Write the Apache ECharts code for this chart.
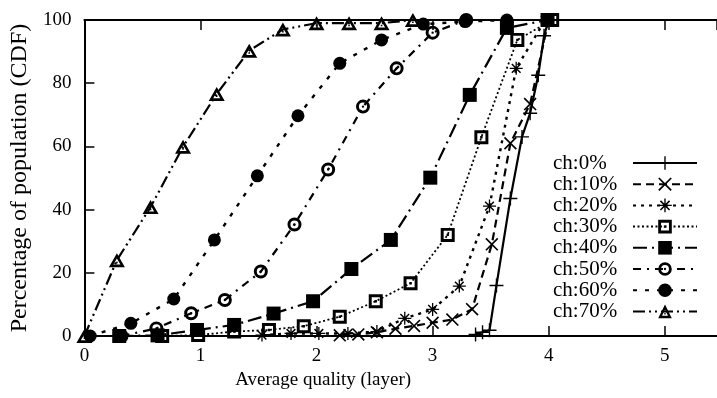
<!DOCTYPE html>
<html>
<head>
<meta charset="utf-8">
<script src="https://cdn.jsdelivr.net/npm/echarts@6/dist/echarts.min.js"></script>
<style>
html,body{margin:0;padding:0;background:#fff;}
#c{width:717px;height:398px;}
</style>
</head>
<body>
<div id="c"></div>
<script>
// ---- data ----
const seriesNames = ['ch:0%', 'ch:10%', 'ch:20%', 'ch:30%', 'ch:40%', 'ch:50%', 'ch:60%', 'ch:70%'];
const xTicks = [0, 1, 2, 3, 4, 5];
const yTicks = [0, 20, 40, 60, 80, 100];

const ch0x  = [3.37, 3.43, 3.49, 3.55, 3.67, 3.77, 3.84, 3.91, 3.96, 4.0];
const ch0y  = [0.5, 1.2, 1.8, 16, 43.5, 63, 70.5, 82.5, 95, 100];
const ch10x = [2.2, 2.36, 2.52, 2.68, 2.84, 3.0, 3.17, 3.34, 3.51, 3.67, 3.84, 4.0];
const ch10y = [0.2, 0.5, 1.2, 2.3, 3.2, 4.2, 5.2, 8.5, 29, 61, 73.4, 100];
const ch20x = [1.53, 1.78, 2.02, 2.27, 2.52, 2.76, 3.0, 3.23, 3.49, 3.72, 3.97];
const ch20y = [0.3, 0.8, 0.8, 0.8, 1.4, 5.6, 8.4, 15.8, 41.1, 84.7, 100];
const ch30x = [0.67, 0.98, 1.29, 1.59, 1.89, 2.2, 2.51, 2.81, 3.13, 3.42, 3.73, 4.03];
const ch30y = [0, 0.3, 1.4, 1.9, 3.1, 6.1, 11, 16.7, 32, 62.9, 93.7, 100];
const ch40x = [0.3, 0.63, 0.97, 1.29, 1.63, 1.97, 2.3, 2.64, 2.98, 3.32, 3.64, 3.99];
const ch40y = [0, 0.2, 1.9, 3.5, 7.1, 11, 21.2, 30.4, 50.1, 76.3, 97.5, 100];
const ch50x = [0.32, 0.62, 0.92, 1.21, 1.52, 1.81, 2.1, 2.4, 2.69, 3.0, 3.29];
const ch50y = [0, 2.4, 7.2, 11.4, 20.4, 35.3, 52.7, 72.6, 84.7, 96, 100];
const ch60x = [0.05, 0.4, 0.77, 1.12, 1.49, 1.84, 2.2, 2.56, 2.92, 3.28, 3.64];
const ch60y = [0, 4, 11.7, 30.4, 50.7, 69.7, 86.3, 93.7, 98.7, 99.5, 100];
const ch70x = [0, 0.28, 0.57, 0.85, 1.14, 1.42, 1.71, 2.0, 2.28, 2.56, 2.83];
const ch70y = [0, 24, 40.8, 59.9, 76.6, 90.3, 97, 99, 99, 99, 100];

// ---- styling ----
const FONT = '"Liberation Serif", "DejaVu Serif", serif';
const SYM = {
  plus: 'path://M9,0H11V9H20V11H11V20H9V11H0V9H9Z',
  cross: 'path://M0,1.8L1.8,0L20,18.2L18.2,20Z M18.2,0L20,1.8L1.8,20L0,18.2Z',
  star: 'path://M9,0H11V9H20V11H11V20H9V11H0V9H9Z M2.5,4.1L4.1,2.5L17.5,15.9L15.9,17.5Z M15.9,2.5L17.5,4.1L4.1,17.5L2.5,15.9Z',
  osq: 'path://M0,0H20V20H0Z M4.2,4.2V15.8H15.8V4.2Z M8.3,8.3H11.7V11.7H8.3Z',
  fsq: 'rect',
  ocirc: 'path://M0,10A10,10,0,1,1,20,10A10,10,0,1,1,0,10Z M4.2,10A5.8,5.8,0,1,0,15.8,10A5.8,5.8,0,1,0,4.2,10Z M8.3,10A1.7,1.7,0,1,1,11.7,10A1.7,1.7,0,1,1,8.3,10Z',
  fcirc: 'circle',
  otri: 'path://M10,0L20,18L0,18Z M10,6.8L5.6,14.6L14.4,14.6Z M9,11H11V13H9Z'
};

const xs = [ch0x, ch10x, ch20x, ch30x, ch40x, ch50x, ch60x, ch70x];
const ys = [ch0y, ch10y, ch20y, ch30y, ch40y, ch50y, ch60y, ch70y];
const symbols = [SYM.plus, SYM.cross, SYM.star, SYM.osq, SYM.fsq, SYM.ocirc, SYM.fcirc, SYM.otri];
const symSizes = [14, 13, 13, 14, 14, 14, 13, [16, 14]];
const dashes = ['solid', [8, 5], [3, 5], [2, 2.5], [14, 5, 2, 5], [8, 6, 2, 6], [4, 8], [12, 4, 2, 4, 2, 4]];
const widths = [2.2, 2.2, 2.4, 1.8, 2.2, 2.2, 2.4, 2.2];

const series = seriesNames.map((name, i) => ({
  name: name,
  type: 'line',
  data: xs[i].map((x, k) => [x, ys[i][k]]),
  symbol: symbols[i],
  symbolSize: symSizes[i],
  showSymbol: true,
  showAllSymbol: true,
  clip: false,
  xAxisIndex: 0,
  yAxisIndex: 0,
  itemStyle: { color: '#000', borderWidth: 0 },
  lineStyle: { color: '#000', width: widths[i], type: dashes[i] },
  emphasis: { disabled: true },
  z: 10 - i
}));

const chart = echarts.init(document.getElementById('c'), null, { renderer: 'canvas' });
chart.setOption({
  animation: false,
  backgroundColor: '#fff',
  textStyle: { fontFamily: FONT, color: '#000' },
  grid: { left: 82, right: 0, top: 20, bottom: 62, containLabel: false },
  legend: {
    data: seriesNames,
    orient: 'vertical',
    left: 553,
    top: 152.5,
    padding: 0,
    itemWidth: 64,
    itemHeight: 17,
    itemGap: 0.2,
    align: 'right',
    selectedMode: false,
    formatter: n => '{a|' + n + '}',
    textStyle: {
      fontFamily: FONT,
      fontSize: 21,
      color: '#000',
      rich: { a: { width: 75, align: 'left', fontFamily: FONT, fontSize: 21, color: '#000' } }
    }
  },
  xAxis: [
    {
      type: 'value', position: 'bottom', min: 0, max: 5.45, interval: 1,
      name: 'Average quality (layer)', nameLocation: 'middle', nameGap: 35,
      nameTextStyle: { fontFamily: FONT, fontSize: 19, color: '#000', padding: [0, 155, 0, 0] },
      axisLine: { lineStyle: { color: '#000', width: 2 } },
      axisTick: { inside: true, length: 10, lineStyle: { color: '#000', width: 1.5 } },
      axisLabel: {
        fontFamily: FONT, fontSize: 19, color: '#000', margin: 11, showMaxLabel: false,
        formatter: v => (xTicks.indexOf(v) >= 0 ? String(v) : '')
      },
      splitLine: { show: false }
    },
    {
      type: 'value', position: 'top', min: 0, max: 5.45, interval: 1,
      axisLine: { lineStyle: { color: '#000', width: 2 } },
      axisTick: { inside: true, length: 10, lineStyle: { color: '#000', width: 1.5 } },
      axisLabel: { show: false },
      splitLine: { show: false }
    }
  ],
  yAxis: [
    {
      type: 'value', min: 0, max: 100, interval: 20,
      name: 'Percentage of population (CDF)', nameLocation: 'middle', nameGap: 50,
      nameTextStyle: { fontFamily: FONT, fontSize: 24, color: '#000' },
      axisLine: { lineStyle: { color: '#000', width: 2 } },
      axisTick: { inside: true, length: 10, lineStyle: { color: '#000', width: 1.5 } },
      axisLabel: {
        fontFamily: FONT, fontSize: 19, color: '#000', margin: 13,
        formatter: v => (yTicks.indexOf(v) >= 0 ? String(v) : '')
      },
      splitLine: { show: false }
    }
  ],
  series: series
});
</script>
</body>
</html>
